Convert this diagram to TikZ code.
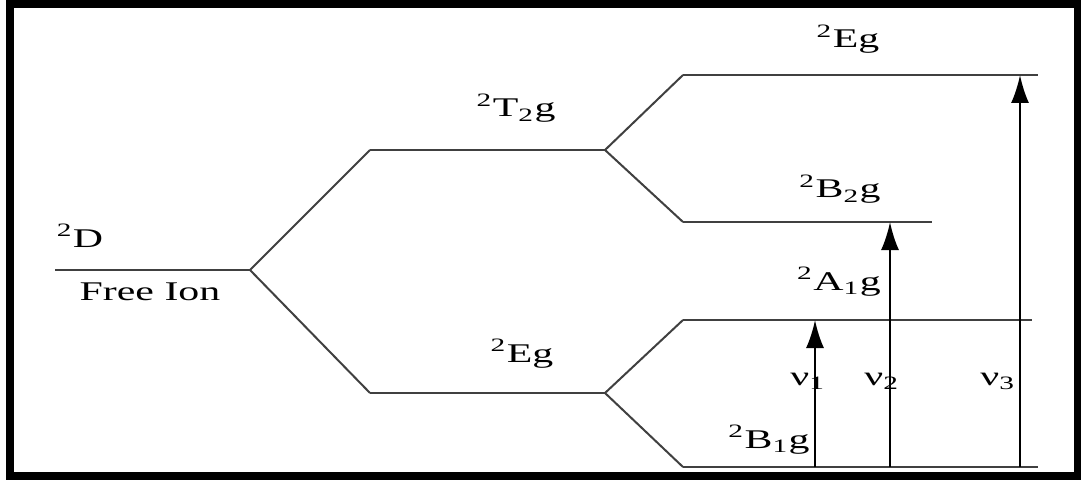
\documentclass[tikz,border=0pt]{standalone}
\usepackage{fontspec}
\setmainfont{Liberation Serif}
\usetikzlibrary{arrows.meta}
\tikzstyle{frame} = [line width=4pt, draw=black]
\tikzstyle{levelline} = [line width=1pt, draw=black!75]
\tikzstyle{term} = [inner sep=0pt, anchor=base, xscale=1.55, font=\fontsize{13.5}{16}\selectfont]
\tikzstyle{arrow} = [line width=1.1pt, -{Latex[length=14pt,width=9pt]}]

\begin{document}
\begin{tikzpicture}[x=0.5pt, y=-0.5pt]
\useasboundingbox (0,0) rectangle (1081,481);
\draw [frame] (9.5,4) rectangle (1078,475.5);

% Free ion
\coordinate (ion-l) at (55,270);
\coordinate (ion-r) at (250,270);
% Octahedral field
\coordinate (t2g-l) at (370,150);
\coordinate (t2g-r) at (605,150);
\coordinate (eg-l) at (370,393);
\coordinate (eg-r) at (605,393);
% Tetragonal field
\coordinate (egt-l) at (683,75);
\coordinate (egt-r) at (1038,75);
\coordinate (b2g-l) at (683,222);
\coordinate (b2g-r) at (932,222);
\coordinate (a1g-l) at (683,320);
\coordinate (a1g-r) at (1032,320);
\coordinate (b1g-l) at (683,467);
\coordinate (b1g-r) at (1038,467);

% Levels
\draw [levelline] (ion-l) -- (ion-r);
\draw [levelline] (t2g-l) -- (t2g-r);
\draw [levelline] (eg-l) -- (eg-r);
\draw [levelline] (egt-l) -- (egt-r);
\draw [levelline] (b2g-l) -- (b2g-r);
\draw [levelline] (a1g-l) -- (a1g-r);
\draw [levelline] (b1g-l) -- (b1g-r);

% Splitting
\draw [levelline] (t2g-l) -- (ion-r) -- (eg-l);
\draw [levelline] (egt-l) -- (t2g-r) -- (b2g-l);
\draw [levelline] (a1g-l) -- (eg-r) -- (b1g-l);

% Terms
\node (freeD) [term] at (80,247) {\textsuperscript{2}D};
\node (freeIon) [term] at (150,300) {Free Ion};
\node (t2g) [term] at (516,117) {\textsuperscript{2}T\textsubscript{2}g};
\node (eg) [term] at (522,362) {\textsuperscript{2}Eg};
\node (egt) [term] at (848,48) {\textsuperscript{2}Eg};
\node (b2g) [term] at (840,198) {\textsuperscript{2}B\textsubscript{2}g};
\node (a1g) [term] at (839,290) {\textsuperscript{2}A\textsubscript{1}g};
\node (b1g) [term] at (769,448) {\textsuperscript{2}B\textsubscript{1}g};
\node (nu1) [term] at (808,385) {ν\textsubscript{1}};
\node (nu2) [term] at (882,385) {ν\textsubscript{2}};
\node (nu3) [term] at (998,385) {ν\textsubscript{3}};

% Transitions
\coordinate (nu1-a) at (815,467);
\coordinate (nu1-b) at (815,320);
\coordinate (nu2-a) at (890,467);
\coordinate (nu2-b) at (890,222);
\coordinate (nu3-a) at (1020,467);
\coordinate (nu3-b) at (1020,75);
\draw [arrow] (nu1-a) -- (nu1-b);
\draw [arrow] (nu2-a) -- (nu2-b);
\draw [arrow] (nu3-a) -- (nu3-b);

\end{tikzpicture}
\end{document}
